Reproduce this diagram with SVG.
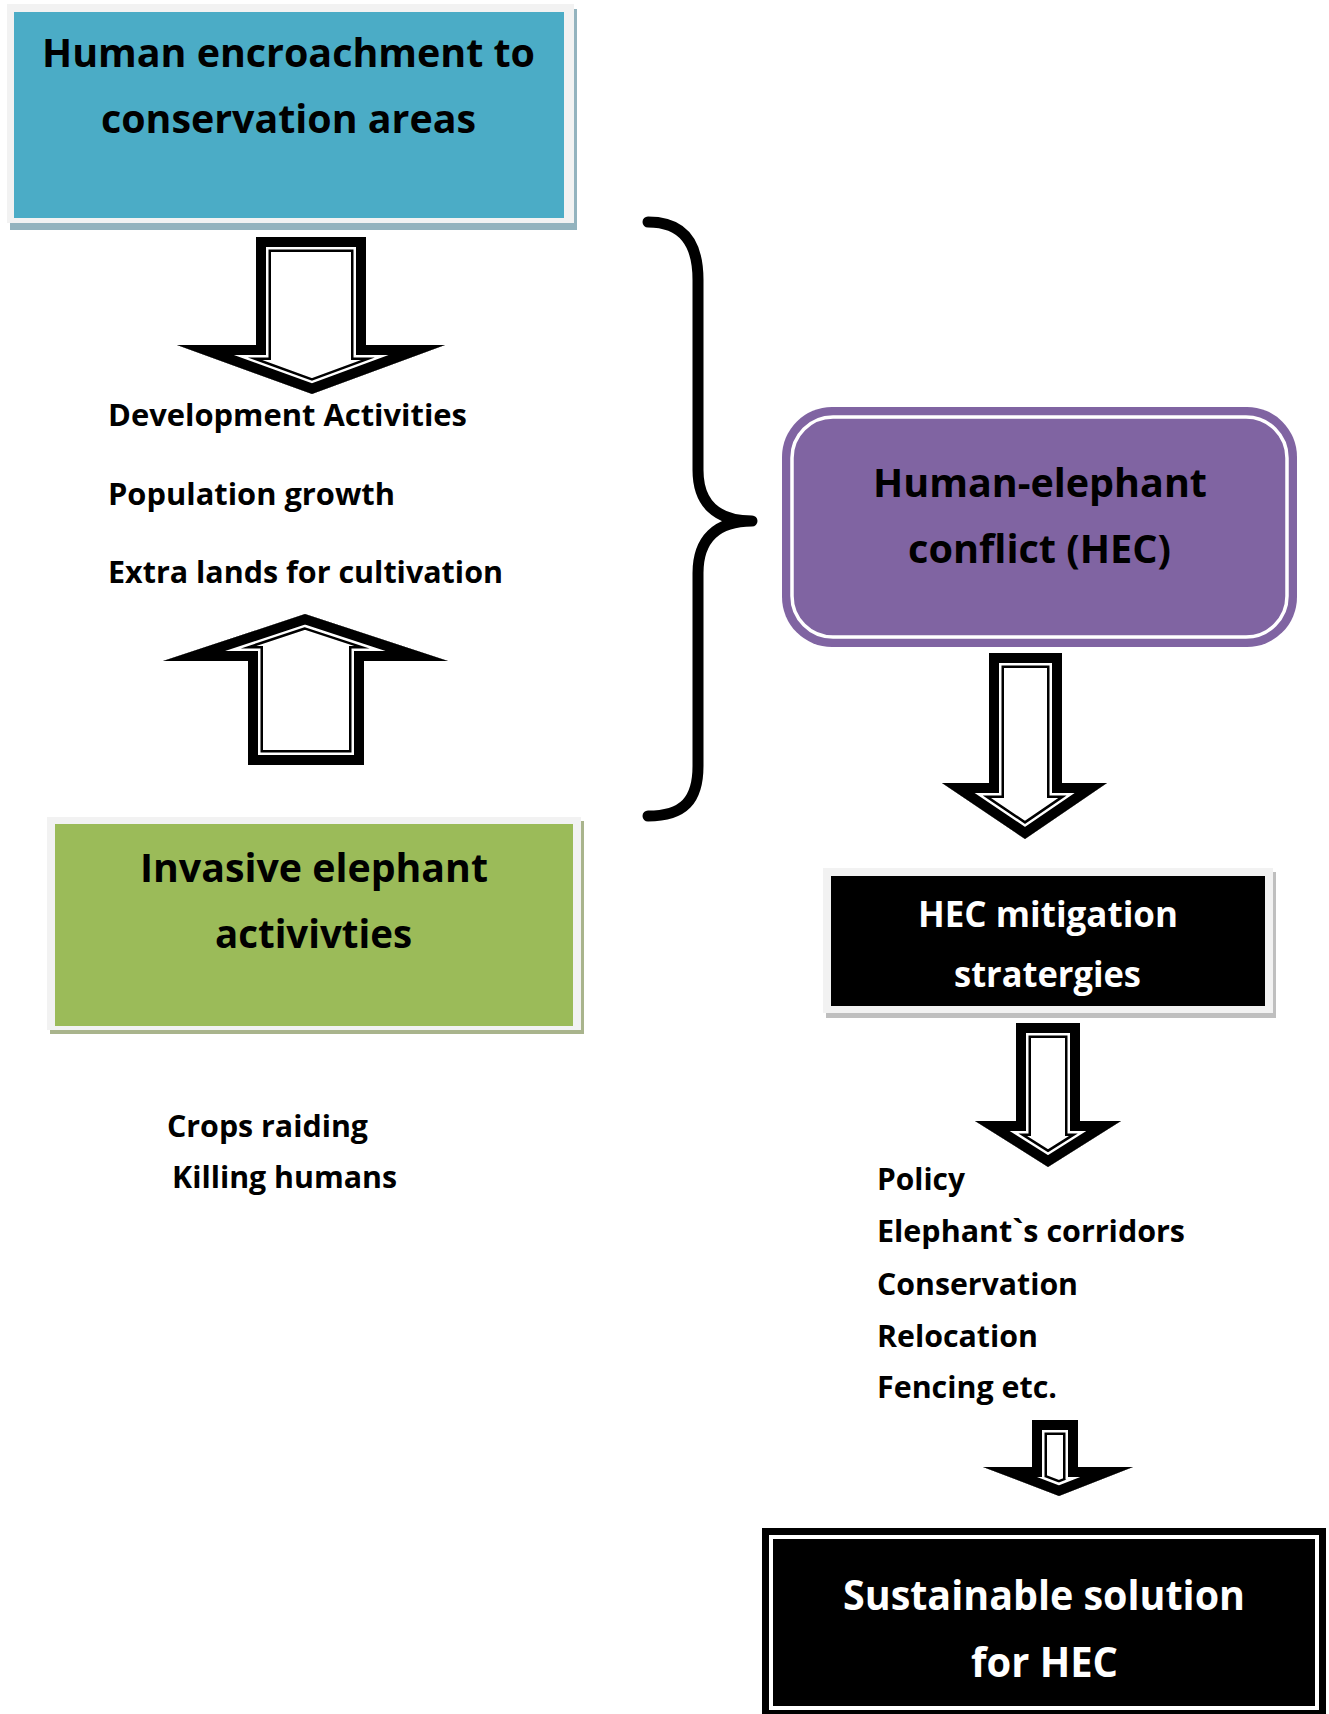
<svg xmlns="http://www.w3.org/2000/svg" xmlns:xlink="http://www.w3.org/1999/xlink" width="1329" height="1714" viewBox="0 0 1329 1714">
<style>
text{font-family:"Open Sans","Lato","Liberation Sans",sans-serif;font-weight:bold;font-variant-ligatures:none;}
.big{font-size:40px;fill:#000;}
.wbig{font-size:42px;fill:#fff;}
.wmid{font-size:35px;fill:#fff;}
.sm{font-size:30px;fill:#000;}
.frame{fill:#f2f2f2;}
.b1{fill:none;stroke:#000;stroke-width:30;stroke-linejoin:miter;stroke-miterlimit:10;}
.b2{fill:none;stroke:#fff;stroke-width:25;stroke-linejoin:miter;stroke-miterlimit:10;}
.b3{fill:none;stroke:#000;stroke-width:20;stroke-linejoin:miter;stroke-miterlimit:10;}
.bg{fill:#fff;stroke:none;}
</style>
<defs>
<polygon id="p1" points="256,237 366,237 366,345 445,345 312,394 177,345 256,345"/>
<polygon id="p2" points="305,614 448,661 364,661 364,765 248,765 248,661 163,661"/>
<polygon id="p3" points="989,653 1062,653 1062,783 1107,783 1025,839 942,783 989,783"/>
<polygon id="p4" points="1016,1023 1080,1023 1080,1121 1121,1121 1048,1167 975,1121 1016,1121"/>
<polygon id="p5" points="1032,1420 1078,1420 1078,1467 1133,1467 1059,1496 983,1467 1032,1467"/>
<clipPath id="c1"><use xlink:href="#p1"/></clipPath>
<clipPath id="c2"><use xlink:href="#p2"/></clipPath>
<clipPath id="c3"><use xlink:href="#p3"/></clipPath>
<clipPath id="c4"><use xlink:href="#p4"/></clipPath>
<clipPath id="c5"><use xlink:href="#p5"/></clipPath>
</defs>

<g id="node-encroachment">
<rect x="10" y="9" width="567" height="221" fill="#93b3be"/>
<rect class="frame" x="7" y="4" width="567" height="219"/>
<rect x="14" y="12" width="550" height="206" fill="#4bacc6"/>
<text class="big" x="42" y="67" textLength="493" lengthAdjust="spacingAndGlyphs">Human encroachment to</text>
<text class="big" x="101" y="133" textLength="375" lengthAdjust="spacingAndGlyphs">conservation areas</text>
</g>

<g id="node-causes">
<text class="sm" x="108" y="426" textLength="359" lengthAdjust="spacingAndGlyphs">Development Activities</text>
<text class="sm" x="108" y="505" textLength="287" lengthAdjust="spacingAndGlyphs">Population growth</text>
<text class="sm" x="108" y="583" textLength="395" lengthAdjust="spacingAndGlyphs">Extra lands for cultivation</text>
</g>

<g id="node-invasive">
<rect x="50" y="821" width="534" height="213" fill="#a9b48c"/>
<rect class="frame" x="47" y="817" width="534" height="213"/>
<rect x="55" y="824" width="518" height="202" fill="#9bbb59"/>
<text class="big" x="140" y="882" textLength="348" lengthAdjust="spacingAndGlyphs">Invasive elephant</text>
<text class="big" x="215" y="948" textLength="197" lengthAdjust="spacingAndGlyphs">activivties</text>
</g>

<g id="node-effects">
<text class="sm" x="167" y="1137" textLength="201" lengthAdjust="spacingAndGlyphs">Crops raiding</text>
<text class="sm" x="172" y="1188" textLength="225" lengthAdjust="spacingAndGlyphs">Killing humans</text>
</g>

<g id="node-hec">
<rect x="782" y="407" width="515" height="240" rx="50" ry="50" fill="#8064a2"/>
<rect x="792" y="417" width="495" height="220" rx="41" ry="41" fill="none" stroke="#fff" stroke-width="3.5"/>
<text class="big" x="873" y="497" textLength="334" lengthAdjust="spacingAndGlyphs">Human-elephant</text>
<text class="big" x="908" y="563" textLength="263" lengthAdjust="spacingAndGlyphs">conflict (HEC)</text>
</g>

<g id="node-mitigation">
<rect x="826" y="872" width="450" height="146" fill="#bfbfbf"/>
<rect class="frame" x="823" y="868" width="450" height="145"/>
<rect x="831" y="876" width="434" height="130" fill="#000"/>
<text class="wmid" x="918" y="927" textLength="260" lengthAdjust="spacingAndGlyphs">HEC mitigation</text>
<text class="wmid" x="954" y="987" textLength="187" lengthAdjust="spacingAndGlyphs">stratergies</text>
</g>

<g id="node-strategies">
<text class="sm" x="877" y="1190" textLength="88" lengthAdjust="spacingAndGlyphs">Policy</text>
<text class="sm" x="877" y="1242" textLength="308" lengthAdjust="spacingAndGlyphs">Elephant`s corridors</text>
<text class="sm" x="877" y="1295" textLength="201" lengthAdjust="spacingAndGlyphs">Conservation</text>
<text class="sm" x="877" y="1347" textLength="161" lengthAdjust="spacingAndGlyphs">Relocation</text>
<text class="sm" x="877" y="1398" textLength="180" lengthAdjust="spacingAndGlyphs">Fencing etc.</text>
</g>

<g id="node-solution">
<rect x="762" y="1528" width="564" height="192" fill="#000"/>
<rect x="771" y="1537" width="546" height="171" fill="none" stroke="#fff" stroke-width="4"/>
<text class="wbig" x="843" y="1610" textLength="402" lengthAdjust="spacingAndGlyphs">Sustainable solution</text>
<text class="wbig" x="971" y="1677" textLength="147" lengthAdjust="spacingAndGlyphs">for HEC</text>
</g>

<g id="connectors">
<g id="arrow1" clip-path="url(#c1)">
<use xlink:href="#p1" class="bg"/><use xlink:href="#p1" class="b1"/><use xlink:href="#p1" class="b2"/><use xlink:href="#p1" class="b3"/>
</g>
<g id="arrow2" clip-path="url(#c2)">
<use xlink:href="#p2" class="bg"/><use xlink:href="#p2" class="b1"/><use xlink:href="#p2" class="b2"/><use xlink:href="#p2" class="b3"/>
</g>
<g id="arrow3" clip-path="url(#c3)">
<use xlink:href="#p3" class="bg"/><use xlink:href="#p3" class="b1"/><use xlink:href="#p3" class="b2"/><use xlink:href="#p3" class="b3"/>
</g>
<g id="arrow4" clip-path="url(#c4)">
<use xlink:href="#p4" class="bg"/><use xlink:href="#p4" class="b1"/><use xlink:href="#p4" class="b2"/><use xlink:href="#p4" class="b3"/>
</g>
<g id="arrow5" clip-path="url(#c5)">
<use xlink:href="#p5" class="bg"/><use xlink:href="#p5" class="b1"/><use xlink:href="#p5" class="b2"/><use xlink:href="#p5" class="b3"/>
</g>
<path id="brace" d="M648,222 C684,222 698,244 698,280 L698,470 C698,503 716,521 752,521 C716,521 698,540 698,573 L698,766 C698,800 684,816 648,816" fill="none" stroke="#000" stroke-width="11" stroke-linecap="round" stroke-linejoin="round"/>
</g>
</svg>
